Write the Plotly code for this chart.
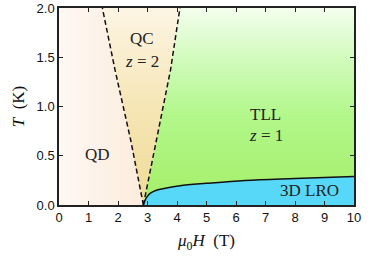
import plotly.graph_objects as go

# Phase boundaries (mu0H in T, temperature in K)
left_T = [0.0, 0.66, 1.37, 2.0]
left_H = [2.86, 2.43, 1.90, 1.47]
right_T = [0.0, 0.66, 1.37, 2.0]
right_H = [2.86, 3.31, 3.78, 4.10]
lro_H = [2.86, 2.92, 3.0, 3.1, 3.3, 3.6, 4.1, 5.0, 6.3, 8.0, 10.0]
lro_T = [0.0, 0.05, 0.09, 0.12, 0.15, 0.17, 0.195, 0.22, 0.25, 0.27, 0.29]

x_ticks = list(range(0, 11))
y_ticks = [0.0, 0.5, 1.0, 1.5, 2.0]

labels = [
    ("QC", 2.81, 1.69),
    ("<i>z</i> = 2", 2.81, 1.46),
    ("TLL", 7.0, 0.92),
    ("<i>z</i> = 1", 7.0, 0.71),
    ("QD", 1.3, 0.51),
    ("3D LRO", 8.5, 0.15),
]

xmin, xmax, ymin, ymax = 0, 10, 0, 2.0
Hc = left_H[0]

fig = go.Figure()

# QD region
qd_x = [xmin, Hc] + left_H[1:] + [xmin, xmin]
qd_y = [ymin, ymin] + left_T[1:] + [ymax, ymin]
fig.add_trace(go.Scatter(x=qd_x, y=qd_y, fill="toself", mode="none",
                         fillgradient=dict(type="horizontal", start=0, stop=2.8,
                                           colorscale=[[0, "#fef8f3"], [1, "#fcecdd"]]),
                         hoverinfo="skip", showlegend=False))
# QC region
qc_x = left_H + right_H[::-1]
qc_y = left_T + right_T[::-1]
fig.add_trace(go.Scatter(x=qc_x, y=qc_y, fill="toself", mode="none",
                         fillgradient=dict(type="vertical", start=0, stop=2,
                                           colorscale=[[0, "#efda96"], [0.5, "#f6e6b6"], [1, "#fdf5e4"]]),
                         hoverinfo="skip", showlegend=False))
# TLL region
tll_x = right_H + [xmax] + lro_H[::-1]
tll_y = right_T + [ymax] + lro_T[::-1]
fig.add_trace(go.Scatter(x=tll_x, y=tll_y, fill="toself", mode="none",
                         fillgradient=dict(type="vertical", start=0, stop=2,
                                           colorscale=[[0, "#a4ef68"], [0.45, "#b2f78a"], [0.75, "#d2fbbe"], [1, "#f4feee"]]),
                         hoverinfo="skip", showlegend=False))
# LRO region
lro_x = lro_H + [xmax, Hc]
lro_y = lro_T + [ymin, ymin]
fig.add_trace(go.Scatter(x=lro_x, y=lro_y, fill="toself", mode="none",
                         fillcolor="#58d8f8", hoverinfo="skip", showlegend=False))

# Boundary lines
fig.add_trace(go.Scatter(x=left_H, y=left_T, mode="lines",
                         line=dict(color="#111111", width=1.5, dash="5px,3px"),
                         hoverinfo="skip", showlegend=False))
fig.add_trace(go.Scatter(x=right_H, y=right_T, mode="lines",
                         line=dict(color="#111111", width=1.5, dash="5px,3px"),
                         hoverinfo="skip", showlegend=False))
fig.add_trace(go.Scatter(x=lro_H, y=lro_T, mode="lines", line_shape="spline",
                         line=dict(color="#111111", width=1.5),
                         hoverinfo="skip", showlegend=False))

for txt, x, y in labels:
    fig.add_annotation(x=x, y=y, text=txt, showarrow=False,
                       font=dict(family="Liberation Serif", size=17, color="#222222"))

axis_common = dict(showgrid=False, zeroline=False, showline=True, linecolor="#222222",
                   linewidth=1.5, mirror="ticks", ticks="inside", ticklen=4,
                   tickwidth=1.2, tickcolor="#222222", automargin=False,
                   tickfont=dict(family="Liberation Sans", size=13, color="#111111"))

fig.update_xaxes(range=[xmin, xmax], tickvals=x_ticks, ticktext=[str(v) for v in x_ticks],
                 title=dict(text="<i>μ</i><sub>0</sub><i>H</i>  (T)", standoff=10,
                            font=dict(family="Liberation Serif", size=17, color="#111111")),
                 **axis_common)
fig.update_yaxes(range=[ymin, ymax], tickvals=y_ticks, ticktext=[f"{v:.1f}" for v in y_ticks],
                 title=dict(text="<i>T</i>  (K)", standoff=8,
                            font=dict(family="Liberation Serif", size=17, color="#111111")),
                 **axis_common)

fig.update_layout(width=373, height=257, margin=dict(l=59, r=19, t=8, b=52, autoexpand=False),
                  plot_bgcolor="white", paper_bgcolor="white")

fig.write_html("out.html", config={"displayModeBar": False},
               post_script="document.body.style.margin='0';document.body.style.overflow='hidden';")
